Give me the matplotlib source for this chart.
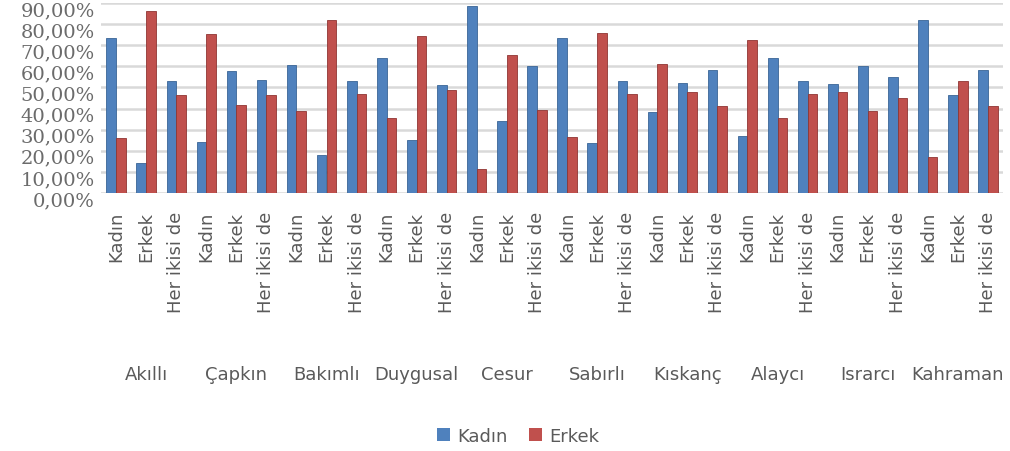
import matplotlib
matplotlib.use("Agg")
import matplotlib.pyplot as plt
import matplotlib.transforms as mtransforms
from matplotlib.patches import Patch
import numpy as np

groups = ["Akıllı", "Çapkın", "Bakımlı", "Duygusal", "Cesur",
          "Sabırlı", "Kıskanç", "Alaycı", "Israrcı", "Kahraman"]
subcats = ["Kadın", "Erkek", "Her ikisi de"]
series_names = ["Kadın", "Erkek"]

kadin = [73.5, 14.0, 53.0,
         24.0, 58.0, 53.5,
         60.5, 18.0, 53.0,
         64.0, 25.0, 51.0,
         88.5, 34.0, 60.0,
         73.5, 23.5, 53.0,
         38.5, 52.0, 58.5,
         27.0, 64.0, 53.0,
         51.5, 60.0, 55.0,
         82.0, 46.5, 58.5]
erkek = [26.0, 86.0, 46.5,
         75.5, 41.5, 46.5,
         39.0, 82.0, 47.0,
         35.5, 74.5, 49.0,
         11.5, 65.5, 39.5,
         26.5, 76.0, 47.0,
         61.0, 48.0, 41.0,
         72.5, 35.5, 47.0,
         48.0, 39.0, 45.0,
         17.0, 53.0, 41.0]
yticks = [0, 10, 20, 30, 40, 50, 60, 70, 80, 90]

BLUE = "#4f81bd"
RED = "#c0504d"
GRAY = "#5a5a5a"

W, H = 1010, 452
fig = plt.figure(figsize=(W / 100, H / 100), dpi=100)
ax = fig.add_axes([101 / W, 1 - 194 / H, 902 / W, 190 / H])

labels = subcats * len(groups)
x = np.arange(len(labels))
bw = 0.32
ax.bar(x - bw / 2, kadin, bw, color=BLUE, edgecolor="#3a6596", linewidth=0.6, zorder=3)
ax.bar(x + bw / 2, erkek, bw, color=RED, edgecolor="#8f3533", linewidth=0.6, zorder=3)

ax.set_xlim(-0.5, len(labels) - 0.5)
ax.set_ylim(0, 90)
ax.set_yticks(yticks)
ax.set_yticklabels([])
ax.yaxis.grid(True, color="#d9d9d9", linewidth=1.8, zorder=0)
ax.set_axisbelow(True)
ax.tick_params(axis="y", length=0)

# y tick labels, drawn slightly below their gridlines as in the reference
ytrans = mtransforms.blended_transform_factory(fig.transFigure, ax.transData) + \
    mtransforms.ScaledTranslation(0, -7 / 100, fig.dpi_scale_trans)
for v in yticks:
    fig.text(95 / W, v, f"{v:.2f}".replace(".", ",") + "%", transform=ytrans,
             ha="right", va="center", family="DejaVu Serif", fontsize=14,
             color="#6b6b6b")

ax.set_xticks(x)
ax.set_xticklabels(labels, rotation=90, fontsize=13, color=GRAY,
                   family="DejaVu Sans", va="top", ha="center")
ax.tick_params(axis="x", length=0, pad=13)

for s in ax.spines.values():
    s.set_visible(False)

trans = mtransforms.blended_transform_factory(ax.transData, fig.transFigure)
for g, name in enumerate(groups):
    ax.text(3 * g + 1, 1 - 375 / H, name, transform=trans, ha="center", va="center",
            fontsize=13, color=GRAY, family="DejaVu Sans")

handles = [Patch(facecolor=BLUE, label=series_names[0]),
           Patch(facecolor=RED, label=series_names[1])]
fig.legend(handles=handles, loc="center", bbox_to_anchor=(518 / W, 1 - 437 / H),
           ncol=2, frameon=False, fontsize=13, handlelength=0.7, handleheight=0.7,
           handletextpad=0.4, columnspacing=1.2, labelcolor=GRAY)

fig.savefig("out.png", dpi=100, facecolor="white")
